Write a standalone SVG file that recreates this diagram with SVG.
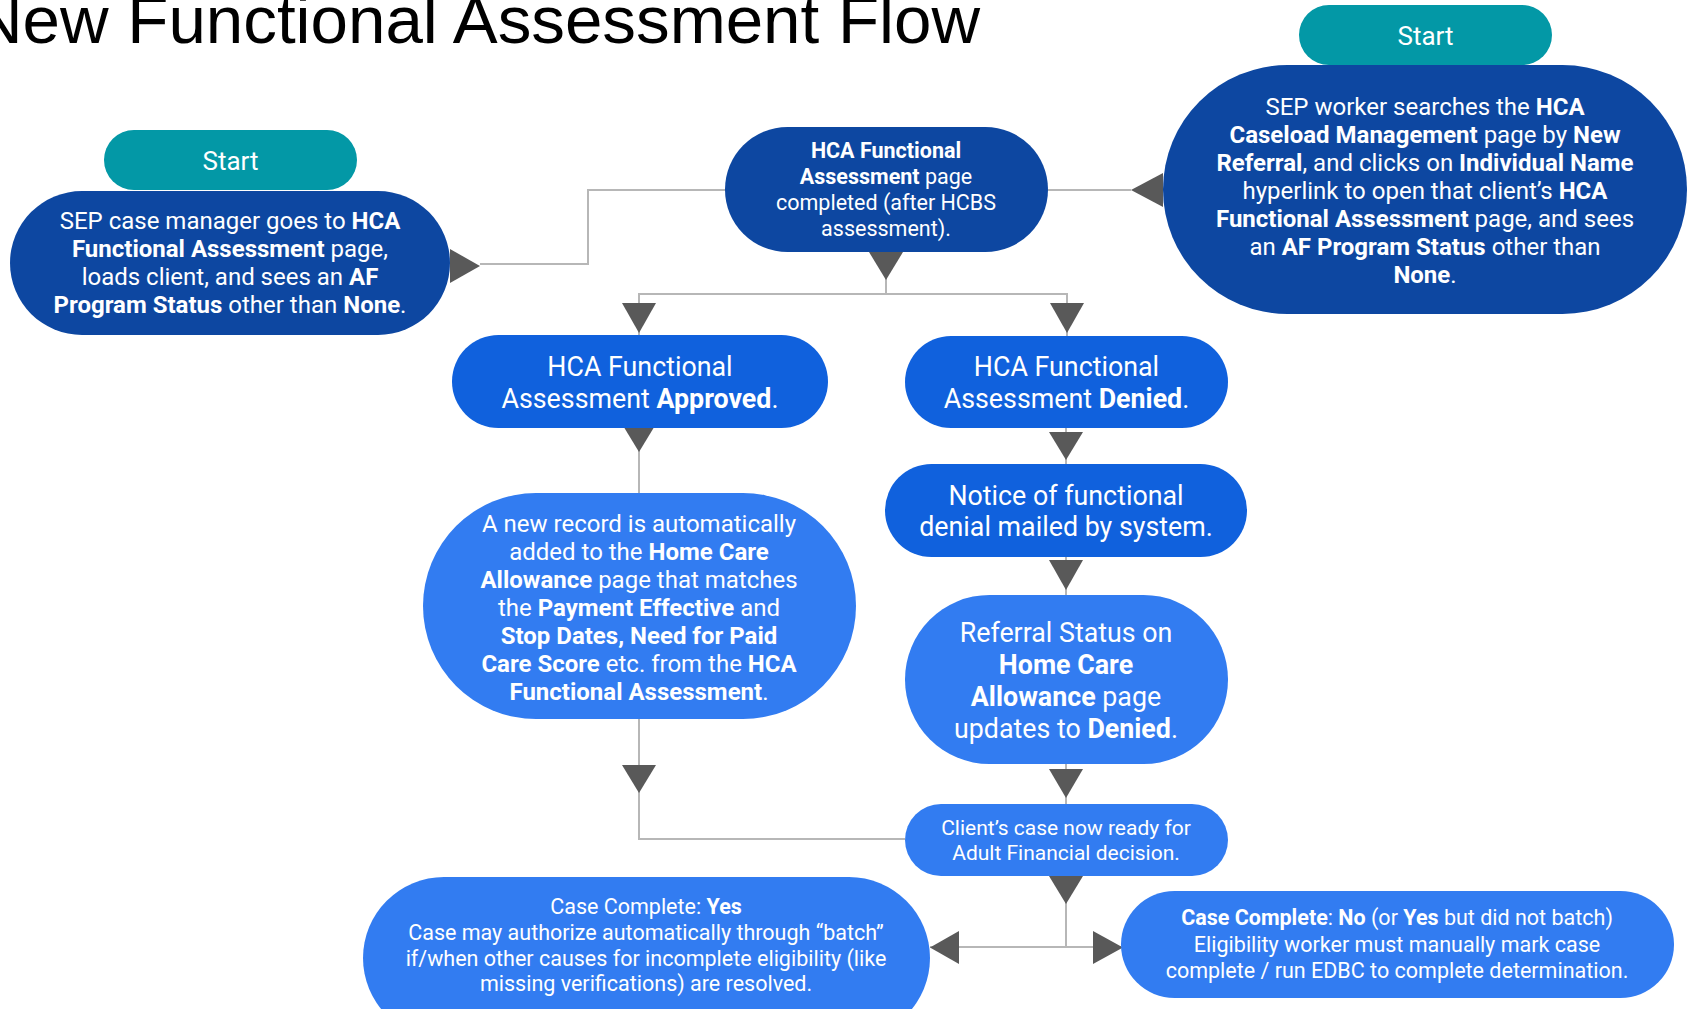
<svg xmlns="http://www.w3.org/2000/svg" width="1688" height="1009" viewBox="0 0 1688 1009">
<style>
.t{font-family:Roboto,"Noto Sans",sans-serif;fill:#ffffff;text-anchor:middle}
.b{font-weight:700}
.teal{fill:#0398a6}
.dark{fill:#0d47a1}
.mid{fill:#1061dd}
.light{fill:#327cf1}
.ln{fill:none;stroke:#b7b7b7;stroke-width:2}
.ah{fill:#595959}
</style>
<rect width="1688" height="1009" fill="#ffffff"/>
<text x="-26" y="43" font-family="'Liberation Sans',Arial,sans-serif" font-size="67.5" textLength="1006" lengthAdjust="spacingAndGlyphs" fill="#000000">New Functional Assessment Flow</text>

<g id="connectors">
<polyline class="ln" points="480,264 588,264 588,190 725,190"/>
<polyline class="ln" points="1048,190 1131,190"/>
<polyline class="ln" points="886,252 886,294"/>
<polyline class="ln" points="639,336 639,294 1067,294 1067,336"/>
<polyline class="ln" points="639,428 639,493"/>
<polyline class="ln" points="639,719 639,839 905,839"/>
<polyline class="ln" points="1066,428 1066,464"/>
<polyline class="ln" points="1066,557 1066,595"/>
<polyline class="ln" points="1066,764 1066,804"/>
<polyline class="ln" points="1066,876 1066,947"/>
<polyline class="ln" points="930,947 1121,947"/>
<polygon class="ah" points="450,249 480,266 450,283"/>
<polygon class="ah" points="1163,173 1131,190 1163,207"/>
<polygon class="ah" points="869,252 903,252 886,280"/>
<polygon class="ah" points="622,303 656,303 639,333"/>
<polygon class="ah" points="1050,303 1084,303 1067,333"/>
<polygon class="ah" points="622,424 656,424 639,452"/>
<polygon class="ah" points="622,765 656,765 639,793"/>
<polygon class="ah" points="1049,432 1083,432 1066,460"/>
<polygon class="ah" points="1049,560 1083,560 1066,590"/>
<polygon class="ah" points="1049,769 1083,769 1066,798"/>
<polygon class="ah" points="1049,876 1083,876 1066,904"/>
<polygon class="ah" points="959,931 930,947.5 959,964"/>
<polygon class="ah" points="1093,931 1123,947.5 1093,964"/>
</g>

<g id="start-left">
<rect class="teal" x="104" y="130" width="253" height="60" rx="30"/>
<text class="t" x="230.5" y="170" font-size="26">Start</text>
</g>

<g id="sep-case-manager">
<rect class="dark" x="10" y="191" width="440" height="144" rx="72"/>
<text class="t" x="230" y="229" font-size="24">SEP case manager goes to <tspan class="b">HCA</tspan></text>
<text class="t" x="230" y="257" font-size="24"><tspan class="b">Functional Assessment</tspan> page,</text>
<text class="t" x="230" y="285" font-size="24">loads client, and sees an <tspan class="b">AF</tspan></text>
<text class="t" x="230" y="313" font-size="24"><tspan class="b">Program Status</tspan> other than <tspan class="b">None</tspan>.</text>
</g>

<g id="hca-fa-completed">
<rect class="dark" x="725" y="127" width="323" height="125" rx="62.5"/>
<text class="t" x="886" y="158" font-size="21.5"><tspan class="b">HCA Functional</tspan></text>
<text class="t" x="886" y="184" font-size="21.5"><tspan class="b">Assessment</tspan> page</text>
<text class="t" x="886" y="210" font-size="21.5">completed (after HCBS</text>
<text class="t" x="886" y="236" font-size="21.5">assessment).</text>
</g>

<g id="start-right">
<rect class="teal" x="1299" y="5" width="253" height="60" rx="30"/>
<text class="t" x="1425.5" y="45" font-size="26">Start</text>
</g>

<g id="sep-worker">
<rect class="dark" x="1163" y="65" width="524" height="249" rx="124.5"/>
<text class="t" x="1425" y="115" font-size="24">SEP worker searches the <tspan class="b">HCA</tspan></text>
<text class="t" x="1425" y="143" font-size="24"><tspan class="b">Caseload Management</tspan> page by <tspan class="b">New</tspan></text>
<text class="t" x="1425" y="171" font-size="24"><tspan class="b">Referral</tspan>, and clicks on <tspan class="b">Individual Name</tspan></text>
<text class="t" x="1425" y="199" font-size="24">hyperlink to open that client’s <tspan class="b">HCA</tspan></text>
<text class="t" x="1425" y="227" font-size="24"><tspan class="b">Functional Assessment</tspan> page, and sees</text>
<text class="t" x="1425" y="255" font-size="24">an <tspan class="b">AF Program Status</tspan> other than</text>
<text class="t" x="1425" y="283" font-size="24"><tspan class="b">None</tspan>.</text>
</g>

<g id="approved">
<rect class="mid" x="452" y="335" width="376" height="93" rx="46.5"/>
<text class="t" x="640" y="376" font-size="26.8">HCA Functional</text>
<text class="t" x="640" y="408" font-size="26.8">Assessment <tspan class="b">Approved</tspan>.</text>
</g>

<g id="denied">
<rect class="mid" x="905" y="336" width="323" height="92" rx="46"/>
<text class="t" x="1066.5" y="376" font-size="26.8">HCA Functional</text>
<text class="t" x="1066.5" y="408" font-size="26.8">Assessment <tspan class="b">Denied</tspan>.</text>
</g>

<g id="notice">
<rect class="mid" x="885" y="464" width="362" height="93" rx="46.5"/>
<text class="t" x="1066" y="505" font-size="26.8">Notice of functional</text>
<text class="t" x="1066" y="536" font-size="26.8">denial mailed by system.</text>
</g>

<g id="new-record">
<rect class="light" x="423" y="493" width="433" height="226" rx="113"/>
<text class="t" x="639" y="532" font-size="24">A new record is automatically</text>
<text class="t" x="639" y="560" font-size="24">added to the <tspan class="b">Home Care</tspan></text>
<text class="t" x="639" y="588" font-size="24"><tspan class="b">Allowance</tspan> page that matches</text>
<text class="t" x="639" y="616" font-size="24">the <tspan class="b">Payment Effective</tspan> and</text>
<text class="t" x="639" y="644" font-size="24"><tspan class="b">Stop Dates, Need for Paid</tspan></text>
<text class="t" x="639" y="672" font-size="24"><tspan class="b">Care Score</tspan> etc. from the <tspan class="b">HCA</tspan></text>
<text class="t" x="639" y="700" font-size="24"><tspan class="b">Functional Assessment</tspan>.</text>
</g>

<g id="referral-status">
<rect class="light" x="905" y="595" width="323" height="169" rx="84.5"/>
<text class="t" x="1066" y="642" font-size="26.8">Referral Status on</text>
<text class="t" x="1066" y="674" font-size="26.8"><tspan class="b">Home Care</tspan></text>
<text class="t" x="1066" y="706" font-size="26.8"><tspan class="b">Allowance</tspan> page</text>
<text class="t" x="1066" y="738" font-size="26.8">updates to <tspan class="b">Denied</tspan>.</text>
</g>

<g id="client-ready">
<rect class="light" x="905" y="804" width="323" height="72" rx="36"/>
<text class="t" x="1066" y="835" font-size="21">Client’s case now ready for</text>
<text class="t" x="1066" y="860" font-size="21">Adult Financial decision.</text>
</g>

<g id="case-complete-yes">
<rect class="light" x="363" y="877" width="567" height="162" rx="81"/>
<text class="t" x="646" y="914" font-size="21.5">Case Complete: <tspan class="b">Yes</tspan></text>
<text class="t" x="646" y="940" font-size="21.5">Case may authorize automatically through “batch”</text>
<text class="t" x="646" y="966" font-size="21.5">if/when other causes for incomplete eligibility (like</text>
<text class="t" x="646" y="991" font-size="21.5">missing verifications) are resolved.</text>
</g>

<g id="case-complete-no">
<rect class="light" x="1121" y="891" width="553" height="107" rx="53.5"/>
<text class="t" x="1397" y="925" font-size="21.5"><tspan class="b">Case Complete</tspan>: <tspan class="b">No</tspan> (or <tspan class="b">Yes</tspan> but did not batch)</text>
<text class="t" x="1397" y="952" font-size="21.5">Eligibility worker must manually mark case</text>
<text class="t" x="1397" y="978" font-size="21.5">complete / run EDBC to complete determination.</text>
</g>
</svg>
